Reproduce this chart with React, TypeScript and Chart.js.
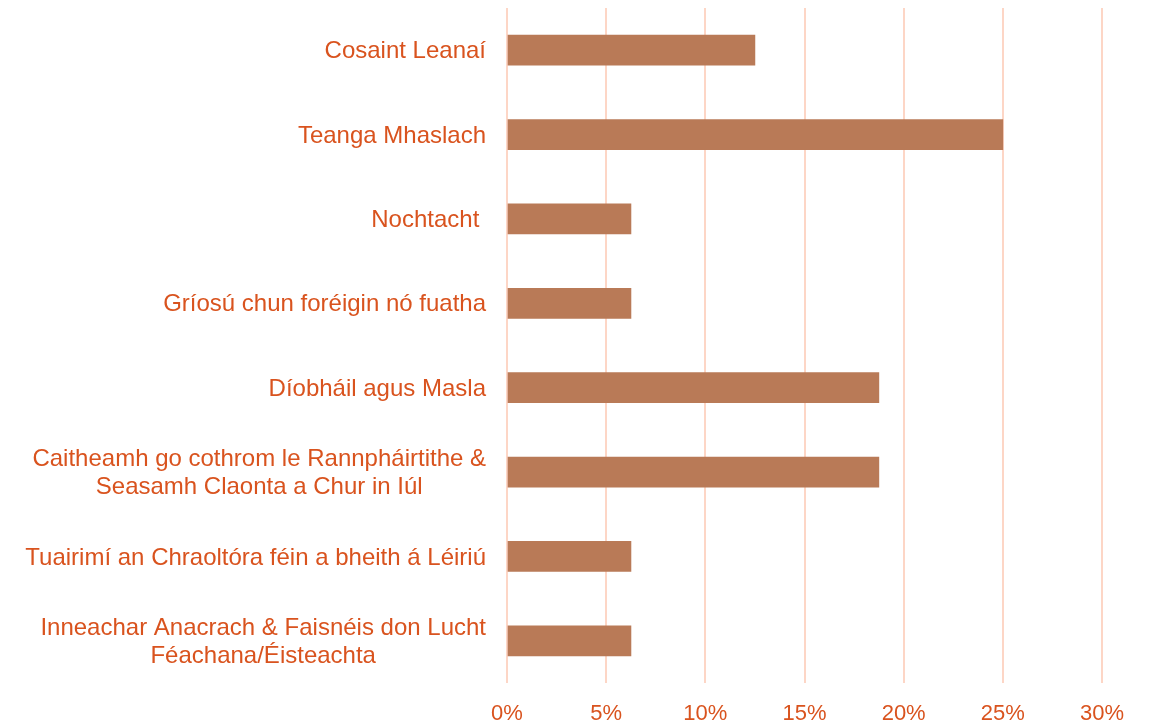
import React, { useEffect, useRef } from "react";
import { Chart, registerables } from "chart.js";

Chart.register(...registerables);

const categories: string[][] = [
  ["Cosaint Leanaí"],
  ["Teanga Mhaslach"],
  ["Nochtacht "],
  ["Gríosú chun foréigin nó fuatha"],
  ["Díobháil agus Masla"],
  ["Caitheamh go cothrom le Rannpháirtithe &", "Seasamh Claonta a Chur in Iúl"],
  ["Tuairimí an Chraoltóra féin a bheith á Léiriú"],
  ["Inneachar Anacrach & Faisnéis don Lucht", "Féachana/Éisteachta"],
];
const values: number[] = [12.5, 25, 6.25, 6.25, 18.75, 18.75, 6.25, 6.25];
const xTicks: number[] = [0, 5, 10, 15, 20, 25, 30];

const LABEL_COLOR = "#d9531e";
const BAR_COLOR = "#b97a57";
const GRID_COLOR = "#fdd6c6";
const FONT = "'Liberation Sans', Arial, sans-serif";
const LABEL_SIZE = 24;

const labelPlugin = {
  id: "catLabels",
  afterDraw(chart: any) {
    const ctx = chart.ctx;
    const yScale = chart.scales.y;
    const rightX = 486;
    const lineH = 28;
    ctx.save();
    ctx.font = `${LABEL_SIZE}px ${FONT}`;
    ctx.fillStyle = LABEL_COLOR;
    ctx.textBaseline = "middle";
    categories.forEach((lines, i) => {
      const yc = yScale.getPixelForTick(i) + 1.5;
      const n = lines.length;
      if (n === 1) {
        ctx.textAlign = "right";
        ctx.fillText(lines[0], rightX, yc);
      } else {
        const maxW = Math.max(...lines.map((l) => ctx.measureText(l).width));
        const cx = rightX - maxW / 2;
        ctx.textAlign = "center";
        lines.forEach((l, j) => {
          ctx.fillText(l, cx, yc + (j - (n - 1) / 2) * lineH);
        });
      }
    });
    ctx.restore();
  },
};

export default function App() {
  const ref = useRef<HTMLCanvasElement | null>(null);
  useEffect(() => {
    if (!ref.current) return;
    const chart = new Chart(ref.current, {
      type: "bar",
      data: {
        labels: categories.map((c) => c.join(" ")),
        datasets: [
          {
            data: values,
            backgroundColor: BAR_COLOR,
            barThickness: 30,
            borderWidth: 0,
          },
        ],
      },
      options: {
        indexAxis: "y",
        animation: false,
        responsive: false,
        maintainAspectRatio: false,
        layout: { padding: { top: 8, right: 56, bottom: 0, left: 0 } },
        plugins: {
          legend: { display: false },
          tooltip: { enabled: false },
        },
        scales: {
          x: {
            min: 0,
            max: 30,
            afterBuildTicks: (scale: any) => {
              scale.ticks = xTicks.map((v) => ({ value: v }));
            },
            afterFit: (scale: any) => {
              scale.height = 42;
            },
            grid: { color: GRID_COLOR, lineWidth: 2, drawTicks: false },
            border: { display: false },
            ticks: {
              padding: 18,
              color: LABEL_COLOR,
              font: { family: FONT, size: 22 },
              callback: (v: any) => `${v}%`,
            },
          },
          y: {
            afterFit: (scale: any) => {
              scale.width = 507;
            },
            grid: { display: false },
            border: { display: false },
            ticks: { display: false },
          },
        },
      },
      plugins: [labelPlugin],
    });
    return () => chart.destroy();
  }, []);
  return (
    <div style={{ position: "absolute", left: 0, top: 0, width: 1158, height: 725 }}>
      <canvas ref={ref} width={1158} height={725} style={{ width: 1158, height: 725 }} />
    </div>
  );
}
